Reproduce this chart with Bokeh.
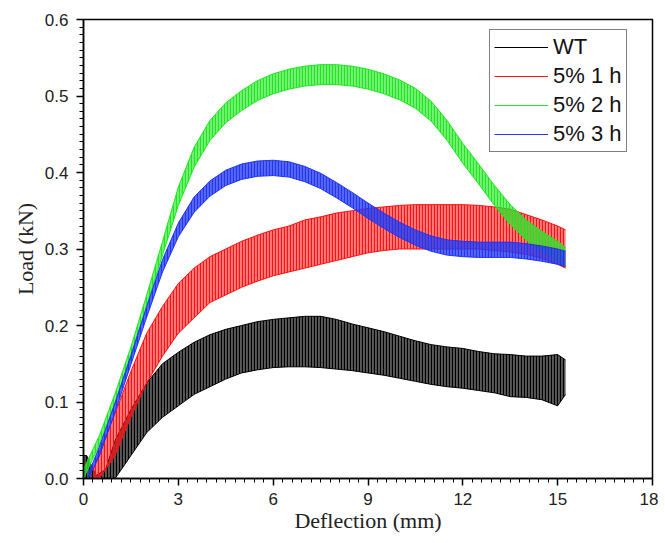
from bokeh.plotting import figure
from bokeh.models import Range1d, FixedTicker, Legend, LegendItem, NumeralTickFormatter
from bokeh.embed import file_html
from bokeh.resources import INLINE
import numpy as np

# ---- data (envelope of the oscillating load traces) ----
series_names = ["WT", "5% 1 h", "5% 2 h", "5% 3 h"]

wt_x  = [0.0, 0.1, 0.4, 0.7, 1.0, 1.5, 2.0, 2.5, 3.0, 3.5, 4.0, 4.5, 5.0, 5.5, 6.0, 6.5, 7.0, 7.5,
         8.0, 8.5, 9.0, 9.5, 10.0, 10.5, 11.0, 11.5, 12.0, 12.5, 13.0, 13.5, 14.0, 14.5, 15.0, 15.25]
wt_lo = [0.0, 0.0, 0.0, 0.0, 0.0, 0.03, 0.06, 0.08, 0.095, 0.11, 0.12, 0.13, 0.138, 0.142, 0.145, 0.146, 0.146, 0.145,
         0.143, 0.141, 0.138, 0.135, 0.131, 0.127, 0.123, 0.12, 0.118, 0.115, 0.112, 0.107, 0.106, 0.103, 0.095, 0.11]
wt_hi = [0.03, 0.03, 0.004, 0.012, 0.05, 0.09, 0.125, 0.15, 0.165, 0.178, 0.188, 0.195, 0.2, 0.205, 0.208, 0.21, 0.212, 0.212,
         0.208, 0.202, 0.197, 0.192, 0.186, 0.18, 0.175, 0.172, 0.17, 0.166, 0.163, 0.162, 0.16, 0.16, 0.162, 0.155]

r1_x  = [0.3, 0.5, 1.0, 1.5, 2.0, 2.5, 3.0, 3.5, 4.0, 4.5, 5.0, 5.5, 6.0, 6.5, 7.0, 7.5, 8.0, 8.5,
         9.0, 9.5, 10.0, 10.5, 11.0, 11.5, 12.0, 12.5, 13.0, 13.5, 14.0, 14.5, 15.0, 15.25]
r1_lo = [0.0, 0.0, 0.03, 0.08, 0.125, 0.16, 0.19, 0.21, 0.23, 0.24, 0.25, 0.258, 0.265, 0.27, 0.275, 0.28, 0.285, 0.29,
         0.295, 0.298, 0.3, 0.3, 0.3, 0.3, 0.3, 0.3, 0.298, 0.296, 0.293, 0.288, 0.28, 0.275]
r1_hi = [0.01, 0.035, 0.085, 0.14, 0.19, 0.225, 0.255, 0.275, 0.29, 0.3, 0.31, 0.318, 0.325, 0.33, 0.338, 0.342, 0.347, 0.35,
         0.353, 0.355, 0.357, 0.358, 0.358, 0.358, 0.358, 0.357, 0.355, 0.352, 0.345, 0.338, 0.33, 0.325]

r2_x  = [0.0, 0.5, 1.0, 1.5, 2.0, 2.5, 3.0, 3.5, 4.0, 4.5, 5.0, 5.5, 6.0, 6.5, 7.0, 7.5, 8.0, 8.5,
         9.0, 9.5, 10.0, 10.5, 11.0, 11.5, 12.0, 12.5, 13.0, 13.5, 14.0, 14.5, 15.0, 15.25]
r2_lo = [0.0, 0.044, 0.099, 0.158, 0.226, 0.292, 0.357, 0.407, 0.442, 0.465, 0.481, 0.494, 0.503, 0.509, 0.513, 0.515, 0.515, 0.513,
         0.509, 0.503, 0.495, 0.484, 0.467, 0.442, 0.412, 0.385, 0.357, 0.332, 0.312, 0.297, 0.284, 0.278]
r2_hi = [0.012, 0.056, 0.111, 0.172, 0.24, 0.31, 0.381, 0.433, 0.468, 0.491, 0.507, 0.52, 0.529, 0.535, 0.539, 0.541, 0.541, 0.539,
         0.535, 0.529, 0.521, 0.51, 0.493, 0.468, 0.438, 0.411, 0.383, 0.358, 0.338, 0.323, 0.31, 0.302]

r3_x  = [0.15, 0.5, 1.0, 1.5, 2.0, 2.5, 3.0, 3.5, 4.0, 4.5, 5.0, 5.5, 6.0, 6.5, 7.0, 7.5, 8.0, 8.5,
         9.0, 9.5, 10.0, 10.5, 11.0, 11.5, 12.0, 12.5, 13.0, 13.5, 14.0, 14.5, 15.0, 15.25]
r3_lo = [0.0, 0.029, 0.087, 0.149, 0.211, 0.27, 0.316, 0.348, 0.369, 0.383, 0.391, 0.395, 0.396, 0.394, 0.388, 0.379, 0.367, 0.354,
         0.34, 0.327, 0.315, 0.305, 0.297, 0.292, 0.29, 0.289, 0.289, 0.289, 0.287, 0.284, 0.28, 0.277]
r3_hi = [0.006, 0.041, 0.099, 0.161, 0.225, 0.286, 0.334, 0.368, 0.389, 0.403, 0.411, 0.415, 0.416, 0.414, 0.408, 0.399, 0.387, 0.374,
         0.36, 0.347, 0.335, 0.325, 0.317, 0.312, 0.31, 0.309, 0.309, 0.309, 0.307, 0.304, 0.3, 0.297]

x_ticks = [0, 3, 6, 9, 12, 15, 18]
y_ticks = [0.0, 0.1, 0.2, 0.3, 0.4, 0.5, 0.6]

colors = ["#000000", "#ff1010", "#1ee61e", "#2036f0"]
fill_alphas = [0.65, 0.55, 0.6, 0.75]

p = figure(frame_width=569, frame_height=459,
           x_range=Range1d(0, 18), y_range=Range1d(0, 0.6),
           output_backend="svg", toolbar_location=None,
           min_border_left=83, min_border_top=19, min_border_right=6, min_border_bottom=50)
p.background_fill_color = "white"
p.border_fill_color = "white"
p.xgrid.visible = False
p.ygrid.visible = False
p.outline_line_color = "black"
p.outline_line_width = 1.5

data = [(wt_x, wt_lo, wt_hi), (r1_x, r1_lo, r1_hi), (r2_x, r2_lo, r2_hi), (r3_x, r3_lo, r3_hi)]
legend_renderers = []
for (xs, lo, hi), c, fa in zip(data, colors, fill_alphas):
    p.varea(x=xs, y1=lo, y2=hi, fill_color=c, fill_alpha=fa,
            hatch_pattern="|", hatch_color=c, hatch_scale=3, hatch_weight=1.2, hatch_alpha=1.0)
    r = p.line(xs, hi, line_color=c, line_width=1)
    p.line(xs, lo, line_color=c, line_width=1)
    legend_renderers.append(r)

# axes
minor_x = [v for v in np.round(np.arange(0, 18.001, 0.3), 3) if v not in x_ticks]
minor_y = [v for v in np.round(np.arange(0, 0.6001, 0.01), 3) if v not in y_ticks]
p.xaxis.ticker = FixedTicker(ticks=x_ticks, minor_ticks=minor_x)
p.yaxis.ticker = FixedTicker(ticks=y_ticks, minor_ticks=minor_y)
p.yaxis.formatter = NumeralTickFormatter(format="0.0")
for ax in (p.xaxis[0], p.yaxis[0]):
    ax.axis_line_color = "black"
    ax.axis_line_width = 1.5
    ax.major_tick_line_color = "black"
    ax.minor_tick_line_color = "black"
    ax.major_tick_line_width = 1.5
    ax.minor_tick_line_width = 1
    ax.major_tick_out = 7
    ax.major_tick_in = 0
    ax.minor_tick_out = 4
    ax.minor_tick_in = 0
    ax.major_label_text_font = "Liberation Sans"
    ax.major_label_text_font_size = "17px"
    ax.major_label_text_color = "#222222"
    ax.axis_label_text_font = "Liberation Serif"
    ax.axis_label_text_font_style = "normal"
    ax.axis_label_text_font_size = "22px"
    ax.axis_label_text_color = "#222222"
p.xaxis.axis_label = "Deflection (mm)"
p.yaxis.axis_label = "Load (kN)"
p.xaxis.major_label_standoff = 7
p.yaxis.major_label_standoff = 8
p.xaxis.axis_label_standoff = 0
p.yaxis.axis_label_standoff = 4

legend = Legend(items=[LegendItem(label=n, renderers=[r]) for n, r in zip(series_names, legend_renderers)],
                location=(406, 326))
legend.label_text_font = "Liberation Sans"
legend.label_text_font_size = "22px"
legend.label_text_color = "#111111"
legend.glyph_width = 54
legend.glyph_height = 26
legend.label_height = 26
legend.spacing = 3
legend.padding = 4
legend.margin = 0
legend.label_standoff = 5
legend.border_line_color = "black"
legend.border_line_width = 1
legend.background_fill_alpha = 1.0
p.add_layout(legend)

open("out.html", "w").write(file_html(p, INLINE))
